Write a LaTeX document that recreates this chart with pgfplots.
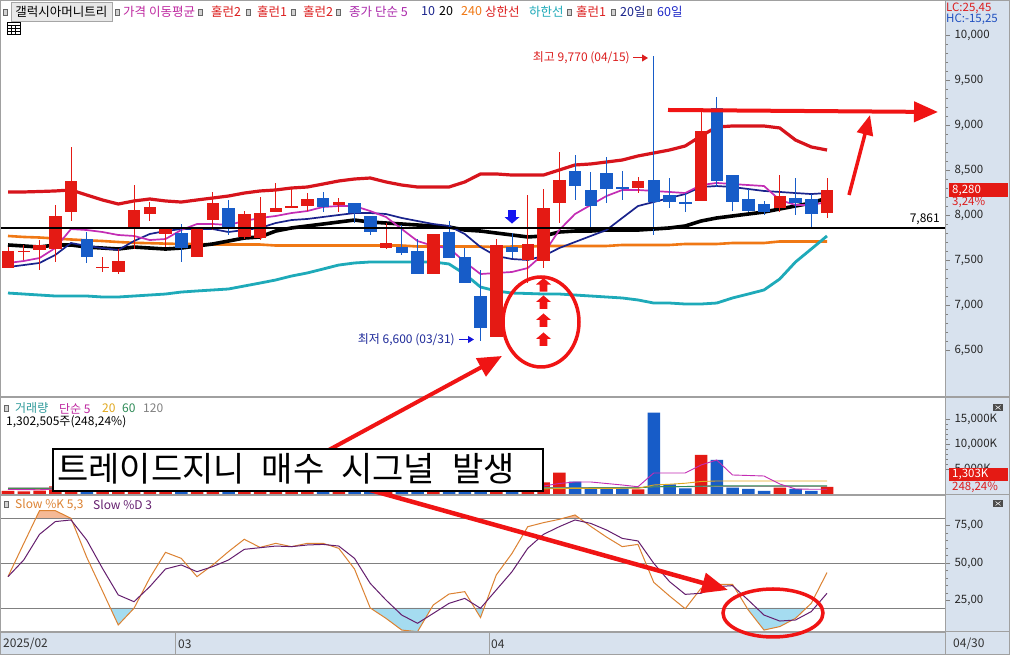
\documentclass[border=0pt]{standalone}
\usepackage{fontspec}
\setmainfont{Noto Sans CJK KR}
\usepackage{pgfplots}
\pgfplotsset{compat=1.18}
\usepackage{pgfplotstable}
\usetikzlibrary{arrows.meta}

\definecolor{cRed}{HTML}{E41A14}
\definecolor{cBlue}{HTML}{175CC8}
\definecolor{bbRed}{HTML}{D7141C}
\definecolor{bbTeal}{HTML}{1EAAB9}
\definecolor{maNavy}{HTML}{19238C}
\definecolor{maMag}{HTML}{C32DB4}
\definecolor{maOrange}{HTML}{F07814}
\definecolor{kOrange}{HTML}{DC8232}
\definecolor{dPurple}{HTML}{641E6E}
\definecolor{fillBlue}{HTML}{A5DCF0}
\definecolor{fillOrange}{HTML}{F5B996}
\definecolor{gridC}{HTML}{808080}
\definecolor{frameC}{HTML}{A0A0A0}
\definecolor{stripC}{HTML}{D8E2EE}
\definecolor{annoRed}{HTML}{F01414}
\definecolor{vGold}{HTML}{E0A81E}
\definecolor{vGreen}{HTML}{2E8B57}
\definecolor{vGray}{HTML}{909090}
\definecolor{hdrTeal}{HTML}{2E9A9A}
\definecolor{lblNavy}{HTML}{1E2A9A}
\definecolor{hdrMag}{HTML}{BE28A0}
\definecolor{hdrRed}{HTML}{DC1E1E}
\definecolor{hdrPur}{HTML}{AA28AA}
\definecolor{hdrBlue}{HTML}{1E28C8}
\definecolor{hcBlue}{HTML}{2050C0}
\definecolor{arrBlue}{HTML}{1414F0}
\definecolor{lowBlue}{HTML}{1414DC}

\newcommand\fs[1]{\fontsize{#1}{#1}\selectfont}

\pgfdeclareplotmark{uarrow}{%
  \pgfpathmoveto{\pgfqpoint{0pt}{7pt}}%
  \pgfpathlineto{\pgfqpoint{7.5pt}{0.5pt}}%
  \pgfpathlineto{\pgfqpoint{3.8pt}{0.5pt}}%
  \pgfpathlineto{\pgfqpoint{3.8pt}{-6.5pt}}%
  \pgfpathlineto{\pgfqpoint{-3.8pt}{-6.5pt}}%
  \pgfpathlineto{\pgfqpoint{-3.8pt}{0.5pt}}%
  \pgfpathlineto{\pgfqpoint{-7.5pt}{0.5pt}}%
  \pgfpathclose
  \pgfusepathqfill}
\pgfdeclareplotmark{darrow}{%
  \pgfpathmoveto{\pgfqpoint{0pt}{-7pt}}%
  \pgfpathlineto{\pgfqpoint{7.5pt}{-0.5pt}}%
  \pgfpathlineto{\pgfqpoint{3.8pt}{-0.5pt}}%
  \pgfpathlineto{\pgfqpoint{3.8pt}{6.5pt}}%
  \pgfpathlineto{\pgfqpoint{-3.8pt}{6.5pt}}%
  \pgfpathlineto{\pgfqpoint{-3.8pt}{-0.5pt}}%
  \pgfpathlineto{\pgfqpoint{-7.5pt}{-0.5pt}}%
  \pgfpathclose
  \pgfusepathqfill}

% up (red) candles: index open high low close
\pgfplotstableread{
i o h l c
0 7411 7644 7411 7600
1 7590 7667 7500 7600
2 7611 7722 7389 7667
3 7622 8111 7478 7989
4 8033 8756 7933 8378
6 7415 7533 7367 7425
7 7367 7622 7344 7489
8 7867 8333 7622 8056
9 8011 8144 7933 8089
10 7789 7856 7644 7856
12 7533 7856 7533 7856
13 7944 8256 7833 8133
15 7756 8044 7733 8011
16 7744 8200 7722 8022
17 8033 8356 8033 8078
18 8078 8300 8078 8100
19 8100 8244 8044 8178
21 8111 8189 8033 8144
24 7633 7911 7622 7689
27 7344 7789 7344 7789
31 6644 7733 6644 7667
33 7500 8222 7244 7678
34 7489 8289 7411 8078
35 8133 8700 7911 8389
40 8300 8422 8244 8378
44 8156 9189 8156 8933
49 8078 8444 8033 8211
52 8022 8411 7967 8280
}\upc
% down (blue) candles
\pgfplotstableread{
i o h l c
5 7733 7811 7467 7533
11 7800 7900 7478 7633
14 8078 8167 7778 7867
20 8189 8256 8033 8089
22 8133 8133 7911 8022
23 7989 7989 7778 7811
25 7644 7889 7556 7578
26 7600 7733 7344 7344
28 7811 7933 7522 7522
29 7533 7633 7244 7244
30 7100 7389 6600 6744
32 7644 7800 7522 7589
36 8489 8667 8167 8322
37 8278 8478 7856 8100
38 8467 8644 8133 8289
39 8311 8489 8167 8290
41 8389 9770 7778 8144
42 8222 8411 8078 8144
43 8140 8244 8033 8130
45 9189 9311 8311 8378
46 8444 8444 8044 8144
47 8178 8289 8033 8044
48 8122 8156 8000 8033
50 8189 8411 8000 8133
51 8178 8233 7867 8011
}\dnc
% indicator lines: bollinger upper/lower, MA5, MA10, MA20, long MA
\pgfplotstableread{
i bu bl m5 m10 m20 mlong
0 8256 7133 7467 7422 7667 7767
1 8256 7122 7489 7444 7656 7756
2 8261 7111 7522 7467 7644 7750
3 8267 7100 7633 7556 7667 7739
4 8278 7100 7844 7689 7667 7728
5 8222 7100 7833 7656 7644 7719
6 8167 7089 7811 7633 7633 7711
7 8122 7089 7778 7611 7622 7700
8 8156 7100 7767 7711 7644 7691
9 8178 7111 7722 7789 7633 7687
10 8156 7122 7733 7822 7622 7682
11 8144 7144 7833 7844 7633 7678
12 8167 7156 7900 7844 7656 7678
13 8189 7167 7900 7844 7678 7672
14 8211 7178 7889 7811 7711 7672
15 8244 7211 7933 7833 7744 7672
16 8267 7244 7967 7856 7756 7672
17 8278 7278 7989 7911 7822 7661
18 8300 7322 8022 7944 7856 7661
19 8311 7356 8044 7956 7878 7661
20 8344 7400 8089 7978 7900 7661
21 8378 7444 8100 8000 7922 7661
22 8400 7467 8100 8022 7944 7661
23 8411 7478 8044 8022 7922 7661
24 8367 7478 7978 8011 7911 7661
25 8333 7478 7844 7967 7900 7661
26 8311 7478 7711 7933 7889 7650
27 8311 7478 7656 7900 7878 7650
28 8311 7456 7633 7878 7867 7650
29 8367 7344 7478 7789 7833 7650
30 8456 7200 7344 7644 7822 7650
31 8456 7156 7356 7544 7800 7644
32 8444 7133 7367 7511 7778 7650
33 8444 7128 7411 7500 7756 7650
34 8444 7122 7567 7544 7767 7656
35 8500 7122 7833 7633 7811 7656
36 8556 7111 8011 7700 7822 7656
37 8567 7100 8111 7767 7822 7656
38 8589 7089 8211 7833 7833 7656
39 8611 7078 8278 7967 7833 7667
40 8656 7056 8278 8100 7833 7667
41 8689 7022 8267 8144 7844 7667
42 8722 7022 8256 8189 7856 7667
43 8767 7011 8244 8233 7878 7678
44 8878 7011 8333 8311 7933 7678
45 8978 7022 8356 8322 7967 7678
46 8989 7078 8344 8311 7989 7689
47 8989 7122 8333 8289 8011 7689
48 8989 7167 8322 8267 8033 7689
49 8967 7289 8167 8256 8067 7706
50 8833 7478 8111 8244 8100 7706
51 8756 7622 8111 8233 8133 7706
52 8722 7767 8144 8244 8189 7706
}\lines
% volume (thousand shares)
\pgfplotstableread{
i v
0 600
1 500
2 650
3 1500
4 2500
6 700
7 600
8 1300
9 700
10 600
12 900
13 1000
15 900
16 1000
17 700
18 600
19 700
21 500
24 700
27 1300
31 2500
33 1500
34 2330
35 4260
40 930
44 7800
49 1270
52 1400
}\volup
\pgfplotstableread{
i v
5 1200
11 800
14 800
20 650
22 600
23 900
25 700
26 1100
28 900
29 1200
30 2000
32 600
36 2460
37 1130
38 1000
39 1130
41 16260
42 1930
43 1130
45 6800
46 1270
47 1000
48 600
50 1000
51 600
}\voldn
\pgfplotstableread{
i m5 m20 m60 m120
0 900 950 1100 1250
1 880 950 1100 1250
2 850 950 1100 1250
3 1000 950 1100 1250
4 1150 960 1100 1250
5 1300 970 1100 1250
6 1300 970 1100 1250
7 1250 970 1100 1250
8 1200 970 1100 1250
9 900 960 1100 1250
10 850 950 1100 1250
11 900 950 1100 1250
12 850 950 1100 1250
13 850 940 1100 1250
14 850 940 1100 1250
15 880 930 1100 1250
16 900 930 1100 1250
17 880 930 1100 1250
18 800 920 1100 1250
19 780 920 1100 1250
20 700 910 1100 1250
21 650 900 1100 1250
22 630 900 1100 1250
23 670 900 1100 1250
24 700 900 1100 1250
25 720 900 1100 1250
26 800 900 1100 1250
27 950 910 1100 1250
28 1000 920 1100 1250
29 1050 930 1100 1250
30 1300 950 1120 1260
31 1600 980 1130 1260
32 1500 990 1140 1270
33 1600 1000 1150 1270
34 1600 1020 1160 1280
35 2100 1080 1180 1290
36 2400 1120 1200 1300
37 2400 1130 1210 1300
38 2100 1130 1210 1300
39 1800 1140 1220 1310
40 1450 1140 1220 1310
41 4200 1800 1450 1450
42 4200 1950 1470 1460
43 4200 2150 1500 1470
44 5800 2500 1580 1500
45 6800 2600 1650 1520
46 3800 2600 1650 1520
47 3700 2600 1650 1520
48 3600 2600 1650 1520
49 2000 2600 1650 1520
50 1000 2600 1650 1520
51 950 2600 1650 1520
52 950 2600 1650 1520
}\volma
% slow stochastic
\pgfplotstableread{
i k d
0 40.9 40.9
1 63 52
2 84.9 69.1
3 84.9 77.6
4 79.8 78.7
5 53.8 65.3
6 31.3 46.4
7 8.7 28.7
8 19.8 24.2
9 40 34.2
10 57.1 46
11 53.1 48.7
12 40.9 44.2
13 48.7 47.6
14 57.6 52
15 65.8 59.1
16 60.4 60.2
17 63.1 61.3
18 60.9 60.9
19 63.1 62
20 63.1 62.4
21 59.8 61.3
22 46 53.1
23 20 36.4
24 13.1 25.3
25 5.3 15.3
26 4.2 9.8
27 22 16.4
28 29.3 23.1
29 30.9 26.4
30 13.6 19.8
31 42 32
32 56.4 44.2
33 74.2 59.8
34 76.9 69.1
35 79.1 74.2
36 82 78.7
37 74.4 76.4
38 67.3 72
39 60.9 66.4
40 62.4 64.7
41 37.1 49.8
42 28 37.6
43 19.5 29.1
44 33.1 29.8
45 35.8 34.2
46 35.8 34.9
47 18.7 25.3
48 5.3 15.3
49 7.6 11.3
50 13.1 12
51 23.1 17.6
52 43.6 29.8
}\stoch

\pgfplotsset{
  panel/.style={scale only axis, width=945pt, xmin=-0.508, xmax=59.492,
    xtick=\empty, axis line style={draw=frameC, line width=0.8pt},
    ytick pos=right, yticklabel pos=right, tick align=outside,
    major tick length=5pt, minor tick length=3pt,
    every tick/.style={draw=gridC, line width=0.6pt},
    scaled y ticks=false,
    yticklabel style={font=\fs{11.5}, text=black!85, anchor=west, xshift=1pt},
    clip=true},
  wick/.style={draw=none, forget plot, error bars/.cd, y dir=both, y explicit,
    error mark=none, error bar style={line width=1pt, draw=#1}},
  body/.style={draw=none, forget plot, error bars/.cd, y dir=both, y explicit,
    error mark=none, error bar style={line width=12.5pt, draw=#1}},
}

\begin{document}
\begin{tikzpicture}
\useasboundingbox (0pt,0pt) rectangle (1010pt,655pt);
% backgrounds (pixel coordinates, y down)
\begin{scope}[x=1pt,y=-1pt,yshift=655pt]
  \fill[white] (0,0) rectangle (1010,655);
  \fill[stripC] (945,0) rectangle (1010,655);
  \fill[stripC] (0,632) rectangle (945,655);
\end{scope}

% ---------------- price panel ----------------
\begin{axis}[panel, at={(0pt,258pt)}, anchor=south west, height=397pt,
  ymin=5978, ymax=10389,
  ytick={6500,7000,7500,8000,8500,9000,9500,10000},
  yticklabels={{6,500},{7,000},{7,500},{8,000},{8,500},{9,000},{9,500},{10,000}},
  minor y tick num=4]
  \addplot[maOrange, line width=2.6pt] table[x=i,y=mlong] {\lines};
  \addplot[bbTeal, line width=2.8pt] table[x=i,y=bl] {\lines};
  \addplot[bbRed, line width=3.2pt] table[x=i,y=bu] {\lines};
  \addplot[black, line width=3.6pt] table[x=i,y=m20] {\lines};
  \addplot[maNavy, line width=1.7pt] table[x=i,y=m10] {\lines};
  \addplot[maMag, line width=1.7pt] table[x=i,y=m5] {\lines};
  % candles
  \addplot[wick=cRed] table[x=i, y expr={(\thisrow{h}+\thisrow{l})/2}, y error expr={(\thisrow{h}-\thisrow{l})/2}] {\upc};
  \addplot[body=cRed] table[x=i, y expr={(\thisrow{o}+\thisrow{c})/2}, y error expr={max(abs(\thisrow{c}-\thisrow{o})/2,6)}] {\upc};
  \addplot[wick=cBlue] table[x=i, y expr={(\thisrow{h}+\thisrow{l})/2}, y error expr={(\thisrow{h}-\thisrow{l})/2}] {\dnc};
  \addplot[body=cBlue] table[x=i, y expr={(\thisrow{o}+\thisrow{c})/2}, y error expr={max(abs(\thisrow{c}-\thisrow{o})/2,6)}] {\dnc};
  % horizontal line 7,861
  \addplot[black, line width=2pt] coordinates {(-0.508,7861) (59.492,7861)};
  % signal marks
  \addplot[only marks, mark=darrow, color=arrBlue] coordinates {(32,7983)};
  \addplot[only marks, mark=uarrow, color=annoRed] coordinates {(34,7222) (34,7028) (34,6828) (34,6617)};
\end{axis}

% ---------------- volume panel ----------------
\begin{axis}[panel, at={(0pt,161pt)}, anchor=south west, height=97pt,
  ymin=0, ymax=19400,
  ytick={5000,10000,15000},
  yticklabels={{5,000K},{10,000K},{15,000K}},
  minor y tick num=4]
  \addplot[ybar, bar width=12.5pt, bar shift=0pt, fill=cRed, draw=none] table[x=i,y=v] {\volup};
  \addplot[ybar, bar width=12.5pt, bar shift=0pt, fill=cBlue, draw=none] table[x=i,y=v] {\voldn};
  \addplot[vGray, line width=0.9pt] table[x=i,y=m120] {\volma};
  \addplot[vGreen, line width=0.9pt] table[x=i,y=m60] {\volma};
  \addplot[vGold, line width=0.9pt] table[x=i,y=m20] {\volma};
  \addplot[maMag, line width=0.9pt] table[x=i,y=m5] {\volma};
\end{axis}

% ---------------- stochastic panel ----------------
\begin{axis}[panel, at={(0pt,23pt)}, anchor=south west, height=137pt,
  ymin=4, ymax=95.333,
  ytick={25,50,75},
  yticklabels={{25,00},{50,00},{75,00}},
  minor y tick num=4]
  \addplot[fill=fillOrange, draw=none] coordinates {(1.78,80) (2,84.9) (3,84.9) (3.96,80)};
  \addplot[fill=fillOrange, draw=none] coordinates {(35.31,80) (36,82) (36.26,80)};
  \addplot[fill=fillBlue, draw=none] coordinates {(6.5,20) (7,8.7) (8,19.8) (8.01,20)};
  \addplot[fill=fillBlue, draw=none] coordinates {(23,20) (24,13.1) (25,5.3) (26,4.2) (26.89,20)};
  \addplot[fill=fillBlue, draw=none] coordinates {(29.63,20) (30,13.6) (30.23,20)};
  \addplot[fill=fillBlue, draw=none] coordinates {(46.92,20) (47,18.7) (48,5.3) (49,7.6) (50,13.1) (50.69,20)};
  \addplot[gridC, line width=0.9pt] coordinates {(-0.508,20) (59.492,20)};
  \addplot[gridC, line width=0.9pt] coordinates {(-0.508,50) (59.492,50)};
  \addplot[gridC, line width=0.9pt] coordinates {(-0.508,80) (59.492,80)};
  \addplot[kOrange, line width=1pt] table[x=i,y=k] {\stoch};
  \addplot[dPurple, line width=1pt] table[x=i,y=d] {\stoch};
\end{axis}

% ---------------- annotations & texts (pixel coordinates) ----------------
\begin{scope}[x=1pt,y=-1pt,yshift=655pt]
  % frame and separators
  \draw[frameC, line width=1pt] (945,0) -- (945,655);
  \draw[frameC, line width=1.5pt] (0,397) -- (1010,397);
  \draw[frameC, line width=1.5pt] (0,494.5) -- (1010,494.5);
  \draw[frameC, line width=1pt] (0,632) -- (1010,632);
  \draw[frameC, line width=1pt] (175,632) -- (175,655);
  \draw[frameC, line width=1pt] (489,632) -- (489,655);
  \draw[frameC, line width=1pt] (0.5,0.5) rectangle (1009.5,654.5);

  % header row
  \tikzset{sq/.style={fill=gray!35, draw=gray!80!black, line width=0.5pt}}
  \draw[sq] (3,9) rectangle (7,15);
  \draw[fill=gray!18, draw=gray!70] (11,2) rectangle (112,21);
  \node[inner sep=0pt, font=\fs{12.5}] at (61.5,11.5) {갤럭시아머니트리};
  \foreach \xx in {115,198,246,291,336,567,611,647} {\draw[sq] (\xx,9) rectangle (\xx+4,15);}
  \tikzset{hdr/.style={anchor=west, inner sep=0pt, font=\fs{12.5}}}
  \node[hdr, text=hdrMag] at (123,11.5) {가격 이동평균};
  \node[hdr, text=hdrRed] at (211,11.5) {홀런2};
  \node[hdr, text=hdrRed] at (257,11.5) {홀런1};
  \node[hdr, text=hdrRed] at (303,11.5) {홀런2};
  \node[hdr, text=hdrPur] at (349,11.5) {종가 단순 5};
  \node[hdr, text=maNavy] at (421,11.5) {10};
  \node[hdr, text=black] at (439,11.5) {20};
  \node[hdr, text=maOrange] at (461,11.5) {240};
  \node[hdr, text=hdrRed] at (485,11.5) {상한선};
  \node[hdr, text=bbTeal] at (529,11.5) {하한선};
  \node[hdr, text=hdrRed] at (576,11.5) {홀런1};
  \node[hdr, text=maNavy] at (620,11.5) {20일};
  \node[hdr, text=hdrBlue] at (657,11.5) {60일};
  % grid icon
  \draw[black, line width=0.8pt] (7,22) rectangle (20,34);
  \draw[black, line width=0.4pt] (7,25) -- (20,25) (7,28) -- (20,28) (7,31) -- (20,31) (11.3,25) -- (11.3,34) (15.6,25) -- (15.6,34);

  % right strip labels
  \node[anchor=west, inner sep=0pt, font=\fs{11.5}, text=hdrRed] at (946,8) {LC:25,45};
  \node[anchor=west, inner sep=0pt, font=\fs{11.5}, text=hcBlue] at (946,19.5) {HC:-15,25};
  \fill[cRed] (949,183) rectangle (1008,197);
  \node[anchor=west, inner sep=0pt, font=\fs{11.5}, text=white] at (952,190) {8,280};
  \node[anchor=west, inner sep=0pt, font=\fs{11.5}, text=hdrRed] at (952,202.5) {3,24\%};
  \fill[cRed] (949,468) rectangle (1008,481);
  \node[anchor=west, inner sep=0pt, font=\fs{11.5}, text=white] at (952,474.5) {1,303K};
  \node[anchor=west, inner sep=0pt, font=\fs{11.5}, text=hdrRed] at (952,487.5) {248,24\%};
  \fill[gray!60!black] (993,404) rectangle (1003,411);
  \draw[white, line width=0.5pt] (995.5,405.5) -- (1000.5,409.5) (995.5,409.5) -- (1000.5,405.5);
  \fill[gray!60!black] (993,500) rectangle (1003,507);
  \draw[white, line width=0.5pt] (995.5,501.5) -- (1000.5,505.5) (995.5,505.5) -- (1000.5,501.5);

  % date strip
  \node[anchor=west, inner sep=0pt, font=\fs{12}, text=black!80] at (3,644) {2025/02};
  \node[anchor=west, inner sep=0pt, font=\fs{12}, text=black!80] at (178,644) {03};
  \node[anchor=west, inner sep=0pt, font=\fs{12}, text=black!80] at (491,644) {04};
  \node[anchor=west, inner sep=0pt, font=\fs{12}, text=black!80] at (953,644) {04/30};

  % volume header
  \draw[sq] (4,405) rectangle (8,411);
  \node[anchor=west, inner sep=0pt, font=\fs{12}, text=hdrTeal] at (15,408.5) {거래량};
  \node[anchor=west, inner sep=0pt, font=\fs{12}, text=hdrMag] at (59,408.5) {단순 5};
  \node[anchor=west, inner sep=0pt, font=\fs{12}, text=vGold] at (102,408.5) {20};
  \node[anchor=west, inner sep=0pt, font=\fs{12}, text=vGreen] at (122,408.5) {60};
  \node[anchor=west, inner sep=0pt, font=\fs{12}, text=gray] at (143,408.5) {120};
  \node[anchor=west, inner sep=0pt, font=\fs{12}, text=black] at (6,421.5) {1,302,505주(248,24\%)};

  % stochastic header
  \draw[sq] (4,501) rectangle (8,507);
  \node[anchor=west, inner sep=0pt, font=\fs{12}, text=kOrange] at (15,504.5) {Slow \%K 5,3};
  \node[anchor=west, inner sep=0pt, font=\fs{12}, text=dPurple] at (93,504.5) {Slow \%D 3};

  % price annotations
  \node[anchor=east, inner sep=0pt, font=\fs{12}, text=hdrRed] at (630,58) {최고 9,770 (04/15)};
  \draw[hdrRed, line width=1pt, -{Triangle[length=6pt,width=7pt]}] (633,58) -- (648,58);
  \node[anchor=east, inner sep=0pt, font=\fs{12}, text=lblNavy] at (455,339.5) {최저 6,600 (03/31)};
  \draw[lowBlue, line width=1pt, -{Triangle[length=6pt,width=7pt]}] (459,339.5) -- (474,339.5);
  \node[anchor=east, inner sep=0pt, font=\fs{12}, text=black] at (940,219.5) {7,861};

  % big red annotations
  \draw[annoRed, line width=4pt, -{Triangle[length=24pt,width=20pt]}] (668,110) -- (938,112);
  \draw[annoRed, line width=3.5pt, -{Triangle[length=20pt,width=16pt]}] (849,195) -- (870,115);
  \draw[annoRed, line width=3.5pt] (541,322) ellipse [x radius=38, y radius=45];
  \draw[annoRed, line width=3.5pt] (773,613) ellipse [x radius=50, y radius=24];
  \draw[annoRed, line width=4pt, -{Triangle[length=24pt,width=20pt]}] (325,452) -- (502,356);
  \draw[annoRed, line width=4.5pt, -{Triangle[length=26pt,width=20pt]}] (345,483) -- (728,590);
  % text box
  \draw[black, line width=1.6pt, fill=white] (53,449) rectangle (543,491);
  \node[anchor=west, inner sep=0pt, font=\fs{34}, text=black] at (57,469)
    {트레이드지니\hspace{17pt}매수\hspace{17pt}시그널\hspace{17pt}발생};
\end{scope}
\end{tikzpicture}
\end{document}
